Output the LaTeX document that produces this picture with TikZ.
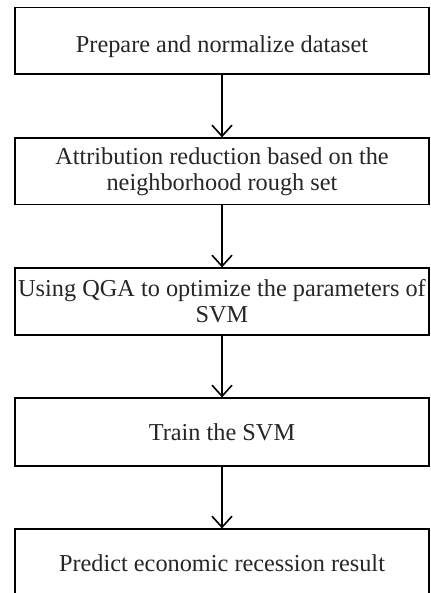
\documentclass[tikz,border=0pt]{standalone}
\usepackage{fontspec}
\setmainfont{Liberation Serif}
\usetikzlibrary{arrows.meta}
\begin{document}
\begin{tikzpicture}[x=1bp,y=-1bp,
  stepbox/.style={draw=black,line width=1.2bp,minimum width=414bp,minimum height=67bp,inner sep=0pt,align=center,
    font=\fontsize{24.3bp}{26bp}\selectfont,text=black!85},
  oneline/.style={text height=18bp,text depth=2bp},
  flow/.style={draw=black,line width=1.6bp,-{Straight Barb[length=11bp,width=20bp,line width=1.6bp]}}]
\useasboundingbox (0,0) rectangle (430,593);
\clip (0,0) rectangle (430,593);
\node[stepbox,text height=24bp,text depth=0bp,minimum height=66.7bp] (b1) at (222,40.7) {Prepare and normalize dataset};
\node[stepbox,minimum height=66.5bp] (b2) at (222,171.2) {Attribution reduction based on the\\neighborhood rough set};
\node[stepbox] (b3) at (222,301.5) {Using QGA to optimize the parameters of\\SVM};
\node[stepbox,oneline,minimum height=68bp] (b4) at (222,432) {Train the SVM};
\node[stepbox,oneline,minimum height=68bp] (b5) at (222,563) {Predict economic recession result};
\draw[flow] (b1.south) -- (b2.north);
\draw[flow] (b2.south) -- (b3.north);
\draw[flow] (b3.south) -- (b4.north);
\draw[flow] (b4.south) -- (b5.north);
\end{tikzpicture}
\end{document}
